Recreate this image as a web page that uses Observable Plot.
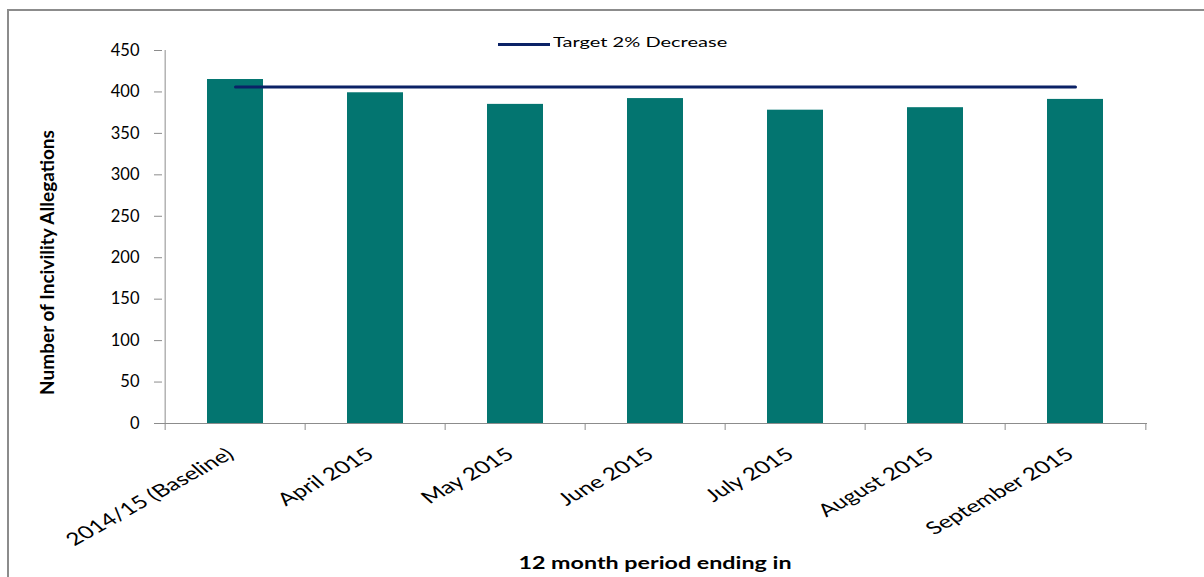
<!DOCTYPE html>
<html><head><meta charset="utf-8">
<script src="https://cdn.jsdelivr.net/npm/d3@7"></script>
<script src="https://cdn.jsdelivr.net/npm/@observablehq/plot@0.6"></script>
<style>
body{margin:0;background:#fff;font-family:Lato, "Open Sans", sans-serif;}
#wrap{position:relative;width:1204px;height:577px;overflow:hidden;}
#frame{position:absolute;left:7px;top:9px;width:1300px;height:700px;border-left:2px solid #8c8c8c;border-top:2px solid #8c8c8c;}
#chart{position:absolute;left:0;top:0;}
#legend-line{position:absolute;left:498px;top:43px;width:52px;height:3px;background:#0b2266;}
#legend-text{position:absolute;left:553px;top:35px;font-size:14px;line-height:14px;white-space:nowrap;color:#000;transform:scaleX(1.43);transform-origin:0 0;}
</style></head><body>
<div id="wrap"><div id="frame"></div><div id="chart"></div><div id="legend-line"></div><div id="legend-text"></div></div>
<script>
const periods = ["2014/15 (Baseline)", "April 2015", "May 2015", "June 2015", "July 2015", "August 2015", "September 2015"];
const allegations = [415, 399, 385, 392, 378, 381, 391];
const targetValue = 406;
const targetLabel = "Target 2% Decrease";
const yTicks = [0, 50, 100, 150, 200, 250, 300, 350, 400, 450];
const yTitle = "Number of Incivility Allegations";
const xTitle = "12 month period ending in";

document.getElementById("legend-text").textContent = targetLabel;

const data = periods.map((p, i) => ({period: p, value: allegations[i]}));
const targetData = periods.map(p => ({period: p, value: targetValue}));

const W = 1204, H = 577, ML = 162, MR = 57, MT = 50, MB = 154;
const step = (W - ML - MR) / periods.length;
const axisGray = "#8c8c8c";

const chart = Plot.plot({
  width: W, height: H,
  marginLeft: ML, marginRight: MR, marginTop: MT, marginBottom: MB,
  style: {fontFamily: "Lato, 'Open Sans', sans-serif", color: "#000", background: "transparent"},
  x: {type: "band", domain: periods, padding: 0, axis: null},
  y: {domain: [0, 450]},
  marks: [
    Plot.barY(data, {x: "period", y: "value", fill: "#037570", insetLeft: 42, insetRight: 42}),
    Plot.lineY(targetData, {x: "period", y: "value", stroke: "#0b2266", strokeWidth: 3}),
    Plot.ruleY([0], {stroke: axisGray}),
    Plot.ruleX([periods[0]], {y1: 0, y2: 450, dx: -step / 2, stroke: axisGray}),
    Plot.ruleX(periods, {y1: 0, y2: 0, dx: -step / 2, insetBottom: -7, stroke: axisGray}),
    Plot.ruleX([periods[periods.length - 1]], {y1: 0, y2: 0, dx: step / 2, insetBottom: -7, stroke: axisGray}),
    Plot.axisY({ticks: yTicks, tickSize: 8, tickPadding: 15, fontSize: 16.5, stroke: axisGray, label: null}),
    Plot.text(periods, {x: d => d, frameAnchor: "bottom", rotate: -38, textAnchor: "end", dx: 0, dy: 33, fontSize: 17.5}),
    Plot.text([yTitle], {frameAnchor: "left", rotate: -90, textAnchor: "middle", dx: -115, dy: 25.5, fontWeight: "bold", fontSize: 19}),
    Plot.text([xTitle], {frameAnchor: "bottom", dy: 145, fontWeight: "bold", fontSize: 17})
  ]
});
document.getElementById("chart").appendChild(chart);

// the reference renders horizontal-ish text wider than normal: stretch glyphs horizontally
function stretch(el, s) {
  const t = el.getAttribute("transform");
  if (t && t.includes("rotate(")) el.setAttribute("transform", t.replace("rotate(", `scale(${s},1) rotate(`));
  else if (t) el.setAttribute("transform", t + ` scale(${s},1)`);
  else el.setAttribute("transform", `scale(${s},1)`);
}
chart.querySelectorAll("text").forEach(el => {
  const txt = el.textContent;
  if (periods.includes(txt)) stretch(el, 1.4);
  else if (txt === xTitle) stretch(el, 1.37);
});
</script>
</body></html>
